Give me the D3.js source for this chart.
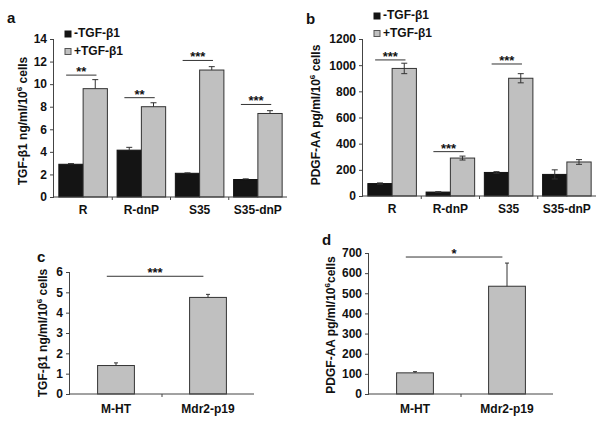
<!DOCTYPE html>
<html><head><meta charset="utf-8">
<script src="https://cdn.jsdelivr.net/npm/d3@7"></script>
<style>body{margin:0;background:#fff}svg{display:block;font-family:"Liberation Sans",Arial,sans-serif;font-weight:bold}</style>
</head><body><svg id="c" width="612" height="425"></svg>
<script>
// ---- data ----
const catsTop = ["R","R-dnP","S35","S35-dnP"];
const seriesNames = ["-TGF-β1","+TGF-β1"];
// panel a: TGF-β1 ng/ml/10^6 cells
const aMinus = [2.9, 4.15, 2.1, 1.55];
const aMinusErr = [0.06, 0.25, 0.04, 0.06];
const aPlus = [9.6, 8.0, 11.25, 7.4];
const aPlusErr = [0.8, 0.35, 0.3, 0.25];
const aTicks = [0,2,4,6,8,10,12,14];
const aSigLevel = [10.8, 8.8, 12.1, 8.2];
const aSigLabel = ["**","**","***","***"];
// panel b: PDGF-AA pg/ml/10^6 cells
const bMinus = [95, 30, 180, 165];
const bMinusErr = [5, 3, 6, 35];
const bPlus = [975, 290, 900, 260];
const bPlusErr = [40, 15, 35, 18];
const bTicks = [0,200,400,600,800,1000,1200];
const bSigLevel = [1040, 339, 1009, null];
const bSigLabel = ["***","***","***",""];
// panel c
const catsBottom = ["M-HT","Mdr2-p19"];
const cVals = [1.4, 4.75];
const cErr = [0.13, 0.15];
const cTicks = [0,1,2,3,4,5,6];
const cSig = {level: 5.79, label: "***"};
// panel d
const dVals = [105, 535];
const dErr = [6, 115];
const dTicks = [0,100,200,300,400,500,600,700];
const dSig = {level: 680, label: "*"};

const svg = d3.select("#c");
const BLACK = "#141414", GRAY = "#c0c0c0", AX = "#444";
const FONT = "Liberation Sans, Arial, sans-serif";

function axes(g, x, y, ticks, cats, x0, x1, y0, y1, labY) {
  g.append("g").attr("transform",`translate(${x0},0)`)
    .call(d3.axisLeft(y).tickValues(ticks).tickFormat(d3.format("d")).tickSize(4).tickPadding(3))
    .call(s=>{s.attr("font-family",FONT).attr("font-size",12);
      s.select(".domain").attr("stroke",AX).attr("d",`M-0.5,${y0}V${y1}`);
      s.selectAll(".tick line").attr("stroke",AX);
      s.selectAll("text").attr("font-weight","bold").attr("fill","#111");});
  const xa = g.append("g").attr("transform",`translate(0,${y0})`);
  xa.append("line").attr("x1",x0).attr("x2",x1).attr("stroke",AX);
  const bounds = cats.slice(1).map(c=>x(c));
  xa.selectAll("line.t").data(bounds).join("line").attr("class","t")
    .attr("x1",d=>d).attr("x2",d=>d).attr("y1",0).attr("y2",3).attr("stroke",AX);
  xa.selectAll("text").data(cats).join("text")
    .attr("x",d=>x(d)+x.bandwidth()/2).attr("y",labY).attr("text-anchor","middle")
    .attr("font-size",12).attr("fill","#111").text(d=>d);
}

function errBar(g, cx, yTop, yBot, cap) {
  g.append("line").attr("x1",cx).attr("x2",cx).attr("y1",yTop).attr("y2",yBot).attr("stroke","#333");
  g.append("line").attr("x1",cx-cap).attr("x2",cx+cap).attr("y1",yTop).attr("y2",yTop).attr("stroke","#333");
}

function sig(g, xa, xb, yv, label) {
  g.append("line").attr("x1",xa).attr("x2",xb).attr("y1",yv).attr("y2",yv).attr("stroke","#333");
  g.append("text").attr("x",(xa+xb)/2).attr("y",yv+1).attr("text-anchor","middle").attr("font-size",13).attr("fill","#111").text(label);
}

function yTitle(g, cx, cy, main, tail) {
  const t = g.append("text").attr("transform",`translate(${cx},${cy}) rotate(-90)`)
    .attr("text-anchor","middle").attr("font-size",12).attr("fill","#111");
  t.append("tspan").text(main);
  t.append("tspan").attr("font-size",8).attr("dy",-5).text("6");
  t.append("tspan").attr("dy",5).text(tail);
}

function topPanel(opts) {
  const g = svg.append("g");
  const x = d3.scaleBand().domain(catsTop).range([opts.x0, opts.x1]).paddingInner(0).paddingOuter(0);
  const y = d3.scaleLinear().domain([0, opts.max]).range([opts.y0, opts.y1]);
  const inner = d3.scaleBand().domain(seriesNames).range([0, x.bandwidth()]).paddingInner(0).paddingOuter(0.2);
  const bw = inner.bandwidth();
  const sets = [[opts.minus, opts.minusErr, BLACK],[opts.plus, opts.plusErr, GRAY]];
  sets.forEach(([vals, errs, col], si) => {
    catsTop.forEach((c,i)=>{
      const bx = x(c)+inner(seriesNames[si]);
      g.append("rect").attr("x",bx).attr("y",y(vals[i])).attr("width",bw).attr("height",y(0)-y(vals[i]))
        .attr("fill",col).attr("stroke",si?"#333":"#111").attr("stroke-width",1);
      const cx = bx+bw/2;
      if (opts.both) {
        errBar(g, cx, y(vals[i]+errs[i]), y(vals[i]-errs[i]), 3);
        g.append("line").attr("x1",cx-3).attr("x2",cx+3).attr("y1",y(vals[i]-errs[i])).attr("y2",y(vals[i]-errs[i])).attr("stroke","#333");
      } else {
        errBar(g, cx, y(vals[i]+errs[i]), y(vals[i]), 3);
      }
    });
  });
  catsTop.forEach((c,i)=>{
    if (opts.sigLevel[i]==null) return;
    sig(g, x(c)+inner(seriesNames[0])+bw*0.3, x(c)+inner(seriesNames[1])+bw*0.55, y(opts.sigLevel[i]), opts.sigLabel[i]);
  });
  axes(g, x, y, opts.ticks, catsTop, opts.x0, opts.x1, opts.y0, opts.y1, 17);
  // legend
  seriesNames.forEach((n,i)=>{
    const ly = opts.legY + i*17.5;
    g.append("rect").attr("x",opts.legX).attr("y",ly-6).attr("width",6).attr("height",6)
      .attr("fill",i?GRAY:BLACK).attr("stroke",i?"#555":BLACK);
    g.append("text").attr("x",opts.legX+9).attr("y",ly).attr("font-size",12).attr("fill","#111").text(n);
  });
  g.append("text").attr("x",opts.lx).attr("y",opts.ly).attr("font-size",15).attr("fill","#111").text(opts.letter);
  yTitle(g, opts.tx, opts.ty, opts.title, opts.tail);
}

function bottomPanel(opts) {
  const g = svg.append("g");
  const x = d3.scaleBand().domain(catsBottom).range([opts.x0, opts.x1]);
  const y = d3.scaleLinear().domain([0, opts.max]).range([opts.y0, opts.y1]);
  const bw = x.bandwidth()*0.4;
  catsBottom.forEach((c,i)=>{
    const bx = x(c)+x.bandwidth()/2-bw/2;
    g.append("rect").attr("x",bx).attr("y",y(opts.vals[i])).attr("width",bw).attr("height",y(0)-y(opts.vals[i]))
      .attr("fill",GRAY).attr("stroke","#333");
    errBar(g, bx+bw/2, y(opts.vals[i]+opts.errs[i]), y(opts.vals[i]), 2);
  });
  sig(g, x(catsBottom[0])+x.bandwidth()*0.4, x(catsBottom[1])+x.bandwidth()*0.45, y(opts.sig.level), opts.sig.label);
  axes(g, x, y, opts.ticks, catsBottom, opts.x0, opts.x1, opts.y0, opts.y1, 19);
  g.append("text").attr("x",opts.lx).attr("y",opts.ly).attr("font-size",15).attr("fill","#111").text(opts.letter);
  yTitle(g, opts.tx, opts.ty, opts.title, opts.tail);
}

topPanel({x0:54,x1:287,y0:197,y1:39,max:14,ticks:aTicks,minus:aMinus,minusErr:aMinusErr,plus:aPlus,plusErr:aPlusErr,
  sigLevel:aSigLevel,sigLabel:aSigLabel,both:false,legX:65,legY:37,letter:"a",lx:7,ly:23,
  tx:27,ty:121,title:"TGF-β1 ng/ml/10",tail:" cells"});
topPanel({x0:363,x1:596,y0:196,y1:39,max:1200,ticks:bTicks,minus:bMinus,minusErr:bMinusErr,plus:bPlus,plusErr:bPlusErr,
  sigLevel:bSigLevel,sigLabel:bSigLabel,both:true,legX:374,legY:19,letter:"b",lx:306,ly:24,
  tx:320,ty:115,title:"PDGF-AA pg/ml/10",tail:" cells"});
bottomPanel({x0:70,x1:254,y0:394,y1:272,max:6,ticks:cTicks,vals:cVals,errs:cErr,sig:cSig,letter:"c",lx:37,ly:262,
  tx:47,ty:333,title:"TGF-β1 ng/ml/10",tail:" cells"});
bottomPanel({x0:369,x1:553,y0:394,y1:253,max:700,ticks:dTicks,vals:dVals,errs:dErr,sig:dSig,letter:"d",lx:322,ly:245,
  tx:335,ty:325,title:"PDGF-AA pg/ml/10",tail:"cells"});
</script></body></html>
